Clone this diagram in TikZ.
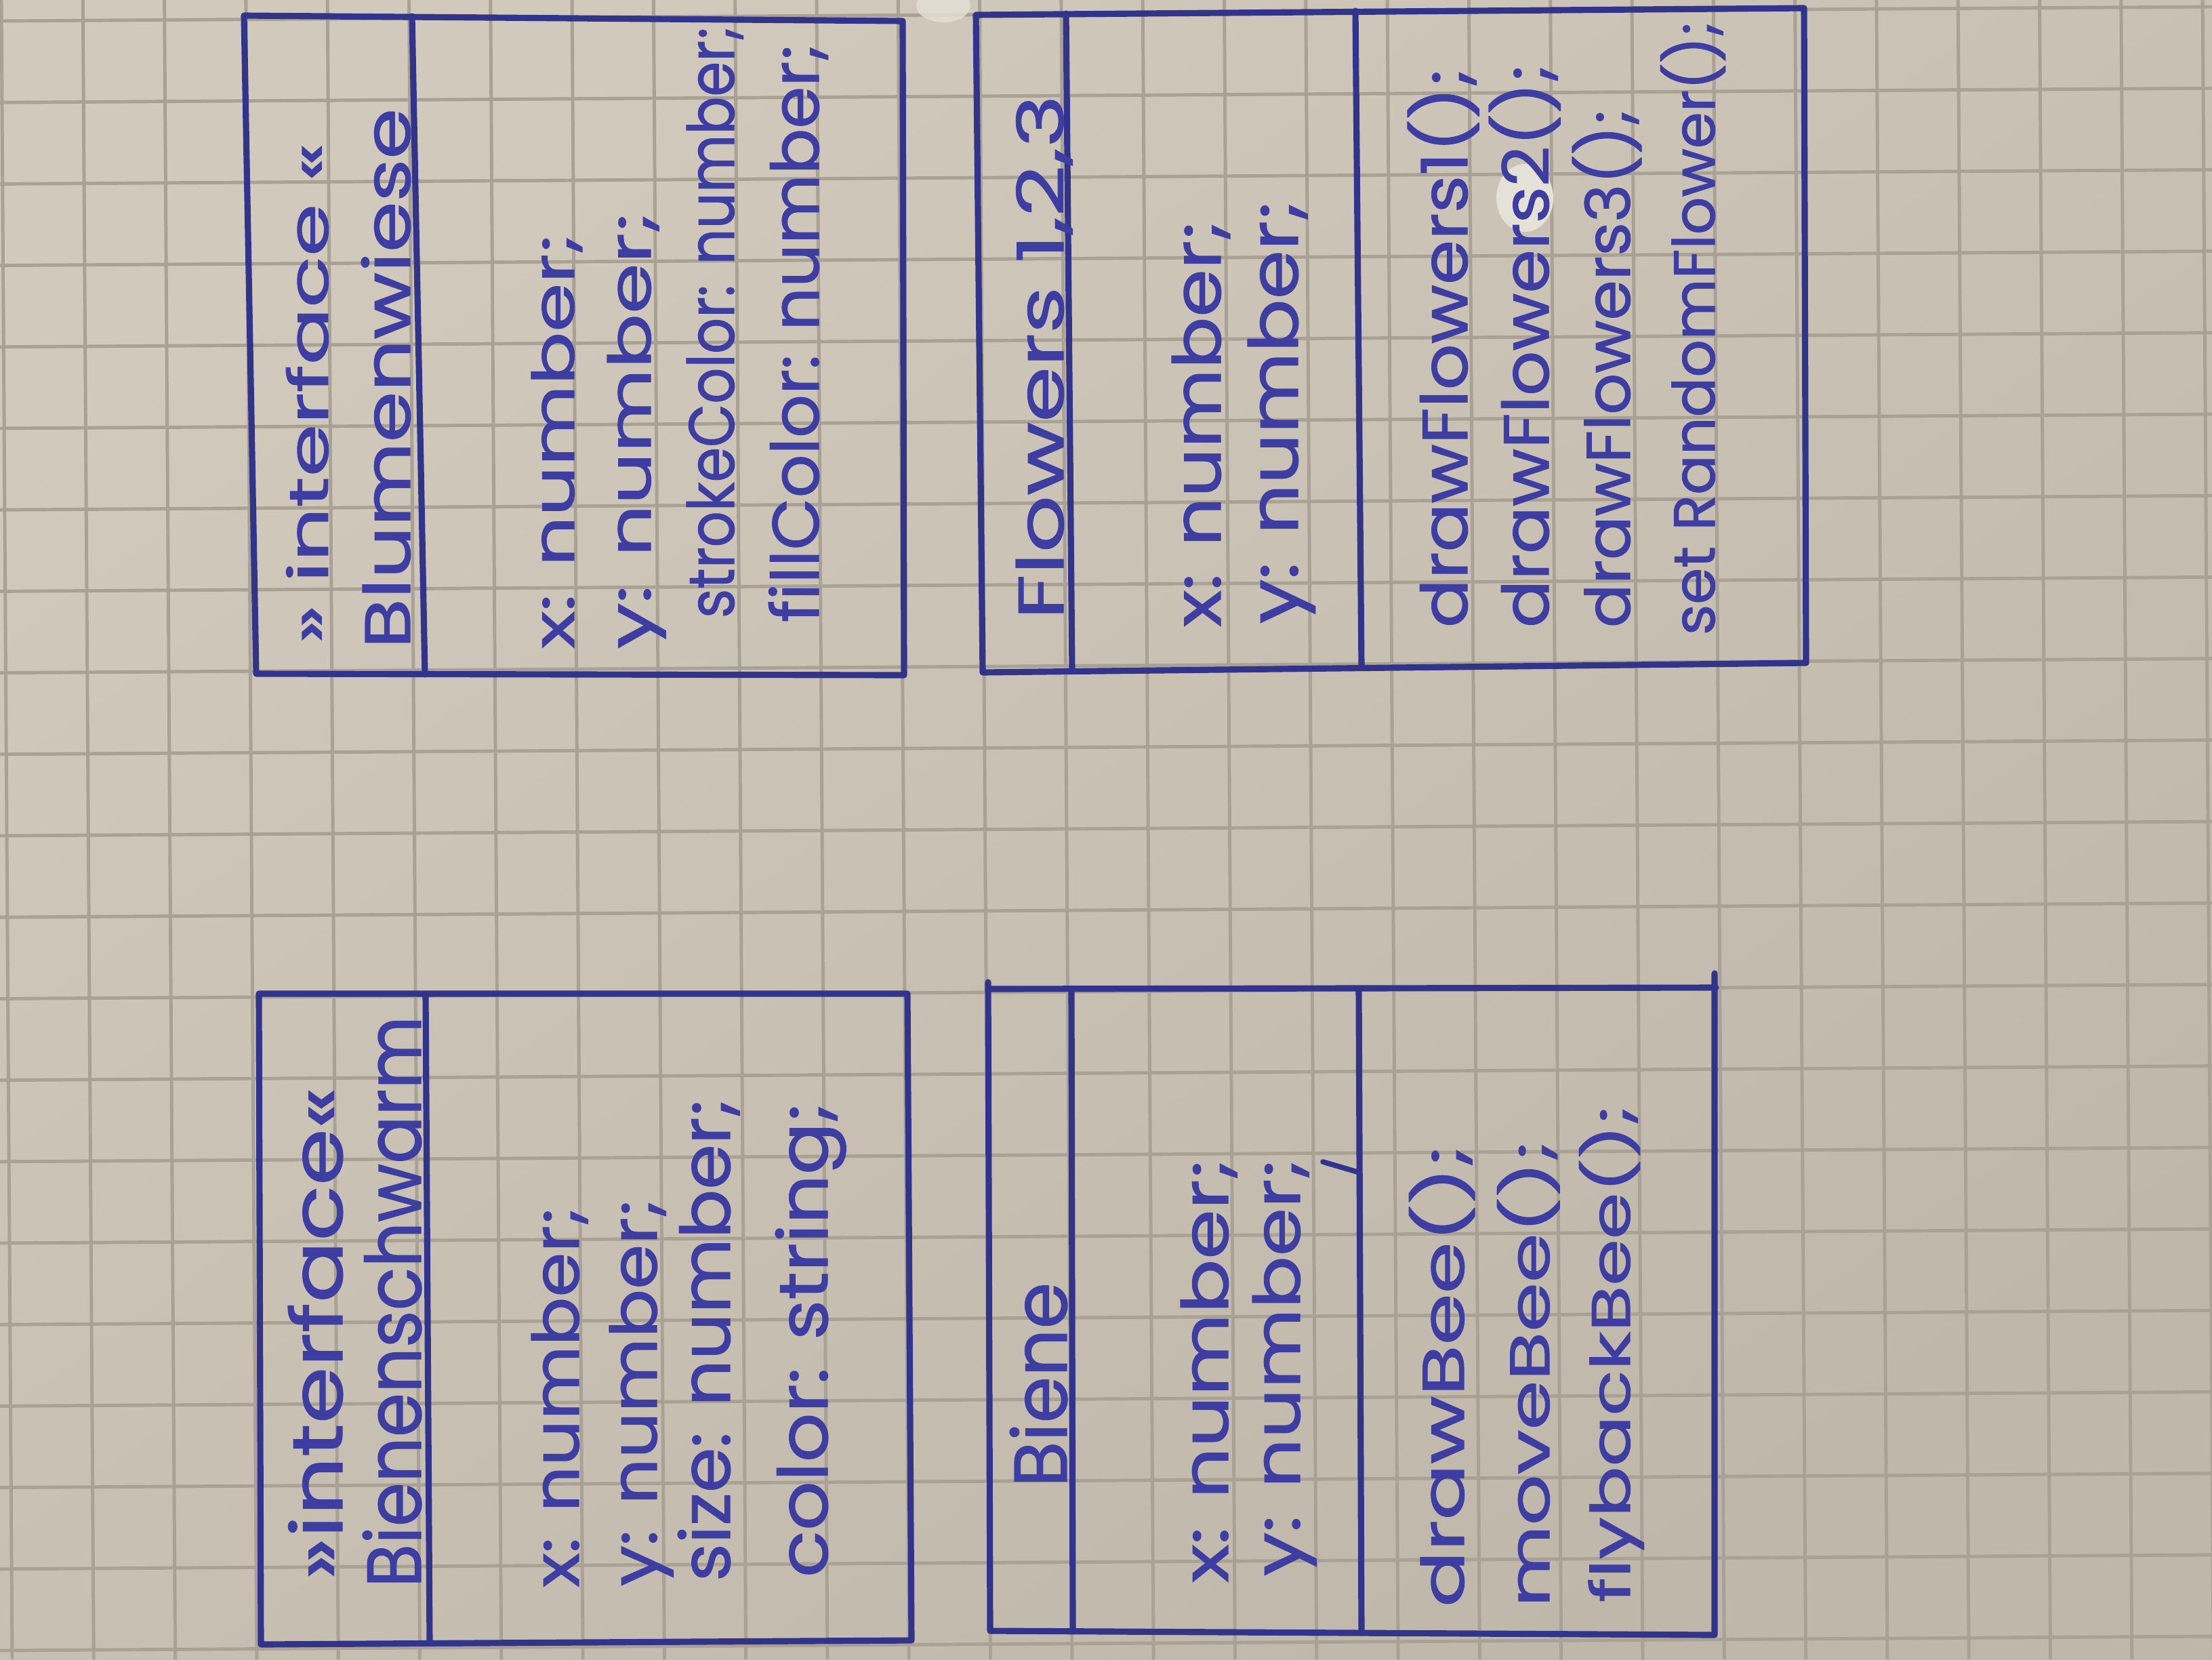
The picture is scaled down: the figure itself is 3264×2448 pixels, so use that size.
\documentclass[tikz,border=0pt]{standalone}
\usepackage{fontspec}
\setmainfont{Poppins}
\newfontfamily\penfont{Poppins}[FakeBold=1.2]
\usepackage{graphicx}

% paper, grid and ink colours
\definecolor{paperA}{RGB}{208,201,188}
\definecolor{paperD}{RGB}{190,183,170}
\definecolor{gridcol}{RGB}{168,161,148}
\definecolor{ink}{RGB}{50,52,140}
\definecolor{inktext}{RGB}{62,62,162}
\definecolor{whiteout}{RGB}{228,225,214}

% one drawing unit = 0.01cm
\newlength\pxu \setlength\pxu{0.01cm}
% handwritten line squeezed to a given length and ascender height
\newcommand\hw[3]{\resizebox{#1\pxu}{#2\pxu}{\penfont #3}}

\tikzset{
  penline/.style={draw=ink, line width=2.6pt, line cap=round, line join=round},
  gridline/.style={draw=gridcol, line width=1.4pt},
  hand/.style={inner sep=0pt, outer sep=0pt, anchor=base west, rotate=90, text=inktext},
}

\begin{document}
\begin{tikzpicture}[x=0.01cm, y=-0.01cm]
\useasboundingbox (0,0) rectangle (3264,2448);

% squared paper
\shade[top color=paperA, bottom color=paperD, shading angle=35]
  (0,0) rectangle (3264,2448);
\foreach \k in {0,...,27}
  \draw[gridline] ({10+120.3*\k-8},0) -- ({10+120.3*\k+8},2448);
\foreach \k in {0,...,20}
  \draw[gridline] (0,{31+120.2*\k}) -- (3264,{10+120.2*\k});

% correction fluid
\fill[whiteout, opacity=0.8] (1392,8) ellipse [x radius=0.4cm, y radius=0.25cm];
\fill[whiteout] (2250,292) ellipse [x radius=0.42cm, y radius=0.5cm];

% ---------- interface Blumenwiese ----------
\coordinate (A1) at (360,23);
\coordinate (A2) at (1332,31);
\coordinate (A3) at (1334,996);
\coordinate (A4) at (378,994);
\coordinate (A5) at (608,24);
\coordinate (A6) at (627,995);
\draw[penline] (A1) -- (A2) -- (A3) -- (A4) -- cycle;
\draw[penline] (A5) -- (A6);
\node[hand] (a-stereo) at (484,950)  {\hw{740}{62}{» interface «}};
\node[hand] (a-name)   at (605,957)  {\hw{797}{72}{Blumenwiese}};
\node[hand] (a-x)      at (847,957)  {\hw{613}{63}{x: number;}};
\node[hand] (a-y)      at (960,957)  {\hw{645}{64}{y: number;}};
\node[hand] (a-stroke) at (1083,912) {\hw{874}{70}{strokeColor: number;}};
\node[hand] (a-fill)   at (1208,918) {\hw{854}{74}{fillColor: number;}};

% ---------- Flowers 1,2,3 ----------
\coordinate (B1) at (1440,22);
\coordinate (B2) at (2662,12);
\coordinate (B3) at (2665,978);
\coordinate (B4) at (1450,992);
\coordinate (B5) at (1573,20);
\coordinate (B6) at (1582,990);
\coordinate (B7) at (2000,16);
\coordinate (B8) at (2009,982);
\draw[penline] (B1) -- (B2) -- (B3) -- (B4) -- cycle;
\draw[penline] (B5) -- (B6);
\draw[penline] (B7) -- (B8);
\node[hand] (b-name) at (1569,914) {\hw{774}{70}{Flowers 1,2,3}};
\node[hand] (b-x)    at (1801,925) {\hw{600}{72}{x: number;}};
\node[hand] (b-y)    at (1915,920) {\hw{625}{74}{y: number;}};
\node[hand] (b-d1)   at (2165,926) {\hw{826}{88}{drawFlowers1();}};
\node[hand] (b-d2)   at (2285,926) {\hw{832}{88}{drawFlowers2();}};
\node[hand] (b-d3)   at (2405,926) {\hw{766}{85}{drawFlowers3();}};
\node[hand] (b-d4)   at (2530,937) {\hw{906}{80}{set RandomFlower();}};

% ---------- interface Bienenschwarm ----------
\coordinate (C1) at (382,1466);
\coordinate (C2) at (1339,1466);
\coordinate (C3) at (1345,2420);
\coordinate (C4) at (385,2426);
\coordinate (C5) at (628,1466);
\coordinate (C6) at (634,2424);
\draw[penline] (C1) -- (C2) -- (C3) -- (C4) -- cycle;
\draw[penline] (C5) -- (C6);
\node[hand] (c-stereo) at (505,2331)  {\hw{728}{80}{»interface«}};
\node[hand] (c-name)   at (621,2342)  {\hw{843}{86}{Bienenschwarm}};
\node[hand] (c-x)      at (854,2342)  {\hw{562}{70}{x: number;}};
\node[hand] (c-y)      at (969,2340)  {\hw{572}{70}{y: number;}};
\node[hand] (c-size)   at (1077,2333) {\hw{713}{77}{size: number;}};
\node[hand] (c-color)  at (1221,2327) {\hw{701}{77}{color: string;}};

% ---------- Biene ----------
\coordinate (D0) at (1458,1449);
\coordinate (D1) at (1458,1459);
\coordinate (D2) at (2532,1457);
\coordinate (D3) at (2530,2412);
\coordinate (D4) at (1461,2406);
\coordinate (D9) at (2530,1436);
\coordinate (D5) at (1581,1459);
\coordinate (D6) at (1583,2406);
\coordinate (D7) at (2005,1459);
\coordinate (D8) at (2009,2409);
\coordinate (D10) at (1952,1714);
\coordinate (D11) at (2003,1729);
\draw[penline] (D0) -- (D4) -- (D3) -- (D9);
\draw[penline] (D1) -- (D2);
\draw[penline] (D5) -- (D6);
\draw[penline] (D7) -- (D8);
\draw[penline, line width=2.2pt] (D10) -- (D11);
\node[hand] (d-name) at (1574,2194) {\hw{302}{84}{Biene}};
\node[hand] (d-x)    at (1812,2335) {\hw{626}{70}{x: number;}};
\node[hand] (d-y)    at (1918,2325) {\hw{616}{70}{y: number;}};
\node[hand] (d-draw) at (2160,2371) {\hw{682}{81}{drawBee();}};
\node[hand] (d-move) at (2286,2371) {\hw{689}{77}{moveBee();}};
\node[hand] (d-fly)  at (2405,2364) {\hw{734}{75}{flybackBee();}};
\end{tikzpicture}
\end{document}
